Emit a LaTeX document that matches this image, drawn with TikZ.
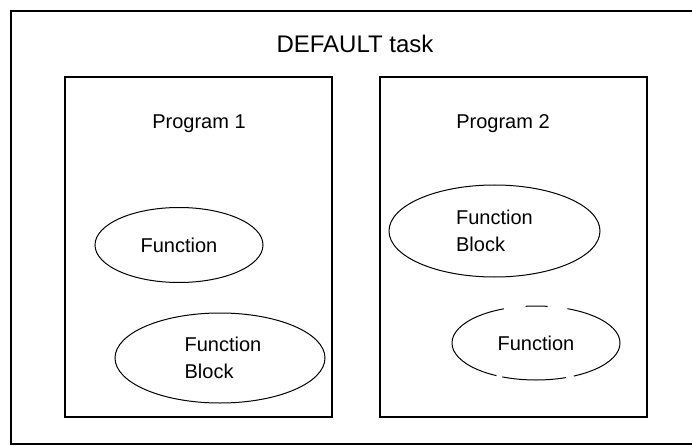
\documentclass[tikz,border=0pt]{standalone}
\usepackage{fontspec}
\setmainfont{Liberation Sans}
\usetikzlibrary{shapes.geometric,positioning}

\begin{document}
\begin{tikzpicture}[
    x=1pt, y=-1pt,
    frame/.style={draw, line width=2.5pt},
    prog/.style={draw, line width=1.5pt, inner sep=0pt},
    block/.style={ellipse, draw, line width=1pt, align=left, inner sep=0pt, font=\fontsize{20}{27}\selectfont},
    func/.style={block, dash pattern=on 67pt off 20pt on 22pt off 22pt on 125pt off 6pt on 64pt off 8pt on 60pt off 0pt},
    label/.style={font=\fontsize{20}{24}\selectfont}
]

\useasboundingbox (0,0) rectangle (692,446);

% Task frame (open to the right)
\coordinate (tr) at (692,11);
\coordinate (tl) at (11,11);
\coordinate (bl) at (11,444);
\coordinate (br) at (692,444);
\draw[frame] (tr) -- (tl) -- (bl) -- (br);
\node[font=\fontsize{24}{27}\selectfont] (task) at (355,44) {DEFAULT task};

% Programs
\node[prog, minimum width=267pt, minimum height=340pt] (prog1) at (198.5,247) {};
\node[prog, minimum width=267pt, minimum height=340pt] (prog2) at (513.5,247) {};
\node[label] (p1label) at (199,124) {Program 1};
\node[label] (p2label) at (503,124) {Program 2};

% Program 1 contents
\node[block, minimum width=168pt, minimum height=75pt] (p1func) at (179,245) {Function};
\node[block, minimum width=210pt, minimum height=90pt] (p1fb) at (220,358) {\hspace*{6pt}Function\\\hspace*{6pt}Block};

% Program 2 contents
\node[block, minimum width=211pt, minimum height=92pt] (p2fb) at (494.5,231) {Function\\Block};
\node[func, minimum width=168pt, minimum height=74pt] (p2func) at (536,343) {Function};

\end{tikzpicture}
\end{document}
